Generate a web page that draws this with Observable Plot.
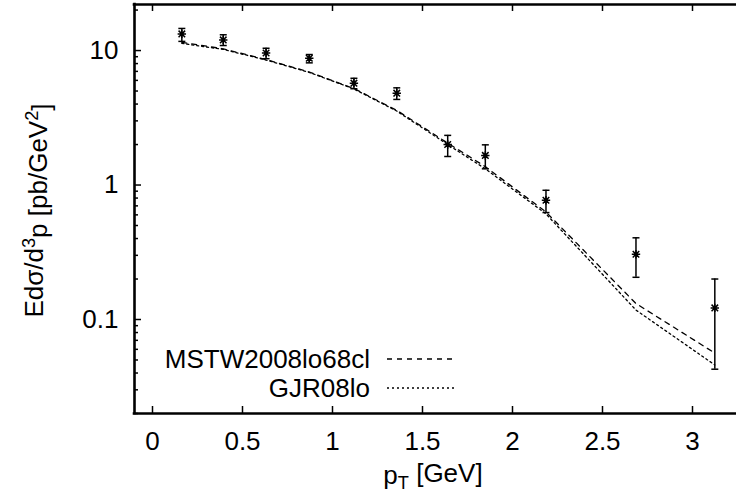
<!DOCTYPE html>
<html><head><meta charset="utf-8">
<script src="https://cdn.jsdelivr.net/npm/d3@7"></script>
<script src="https://cdn.jsdelivr.net/npm/@observablehq/plot@0.6"></script>
<style>
body{margin:0;background:#fff}
svg{font-family:"Liberation Sans",Arial,Helvetica,sans-serif}
</style>
</head><body><div id="chart"></div>
<script>
// ---- data ----
const pt     = [0.163, 0.393, 0.631, 0.871, 1.119, 1.357, 1.640, 1.849, 2.186, 2.686, 3.124];
const sigma  = [13.3, 12.0, 9.6, 8.77, 5.72, 4.82, 2.0, 1.66, 0.77, 0.306, 0.122];
const errLo  = [11.7, 10.9, 8.7, 8.1, 5.2, 4.33, 1.63, 1.32, 0.624, 0.206, 0.0427];
const errHi  = [14.6, 13.1, 10.4, 9.34, 6.22, 5.28, 2.34, 1.99, 0.914, 0.405, 0.2];
const mstw   = [11.5, 10.3, 8.57, 6.92, 5.22, 3.59, 2.05, 1.37, 0.63, 0.1315, 0.0563];
const gjr    = [11.3, 10.2, 8.50, 6.88, 5.18, 3.55, 2.00, 1.32, 0.61, 0.1175, 0.0459];
const seriesNames = ["MSTW2008lo68cl", "GJR08lo"];
const xTicks = [0, 0.5, 1, 1.5, 2, 2.5, 3];
const yTicks = [0.1, 1, 10];
const yDomain = [0.02, 22];
const yMinor = [];
for (const d of [0.01, 0.1, 1, 10]) for (let k = 2; k <= 9; k++) { const v = k * d; if (v >= yDomain[0] && v <= yDomain[1]) yMinor.push(+v.toPrecision(3)); }

const points = pt.map((x, i) => ({x, v: sigma[i], lo: errLo[i], hi: errHi[i]}));
const curves = [
  ...pt.map((x, i) => ({x, v: mstw[i], s: seriesNames[0]})),
  ...pt.map((x, i) => ({x, v: gjr[i], s: seriesNames[1]}))
];

// ---- layout ----
const W = 736, H = 500, mL = 134, mT = 4, mB = 87, mR = 0;
const pw = W - mL - mR, ph = H - mT - mB;
const pxPerUnit = 180;
const xDomain = [-0.1, -0.1 + pw / pxPerUnit];
const FS = 26;

const star = {draw(ctx) {
  const r = 4.2, d = r * 0.78;
  ctx.moveTo(-r, 0); ctx.lineTo(r, 0);
  ctx.moveTo(0, -r); ctx.lineTo(0, r);
  ctx.moveTo(-d, -d); ctx.lineTo(d, d);
  ctx.moveTo(-d, d); ctx.lineTo(d, -d);
}};
const cap = {draw(ctx) { ctx.moveTo(-3.5, 0); ctx.lineTo(3.5, 0); }};

const chart = Plot.plot({
  width: W, height: H,
  marginLeft: mL, marginTop: mT, marginBottom: mB, marginRight: mR,
  style: {fontFamily: '"Liberation Sans", Arial, sans-serif', fontSize: FS + "px", color: "black", background: "white", overflow: "visible"},
  x: {domain: xDomain},
  y: {type: "log", domain: yDomain},
  marks: [
    // inner ticks
    Plot.ruleX(xTicks, {insetTop: ph - 7, strokeWidth: 1.5}),
    Plot.ruleX(xTicks, {insetBottom: ph - 7, strokeWidth: 1.5}),
    Plot.ruleY(yTicks, {insetRight: pw - 7, strokeWidth: 1.5}),
    Plot.ruleY(yMinor, {insetRight: pw - 4, strokeWidth: 1.5}),
    Plot.axisX({ticks: xTicks, tickSize: 0, tickPadding: 18, label: null, tickFormat: d => String(d), fontSize: FS}),
    Plot.axisY({ticks: yTicks, tickSize: 0, tickPadding: 16, label: null, tickFormat: d => String(d), fontSize: FS}),
    // theory curves
    Plot.line(curves.filter(d => d.s === seriesNames[0]), {x: "x", y: "v", stroke: "black", strokeWidth: 1.3, strokeDasharray: "5,5"}),
    Plot.line(curves.filter(d => d.s === seriesNames[1]), {x: "x", y: "v", stroke: "black", strokeWidth: 1.3, strokeDasharray: "2,3"}),
    // data with error bars
    Plot.ruleX(points, {x: "x", y1: "lo", y2: "hi", stroke: "black", strokeWidth: 1.5}),
    Plot.dot(points, {x: "x", y: "lo", symbol: cap, stroke: "black", strokeWidth: 1.5, r: 4}),
    Plot.dot(points, {x: "x", y: "hi", symbol: cap, stroke: "black", strokeWidth: 1.5, r: 4}),
    Plot.dot(points, {x: "x", y: "v", symbol: star, stroke: "black", strokeWidth: 1.5, r: 4}),
    // frame (top, left, bottom)
    Plot.ruleY([yDomain[0]], {strokeWidth: 2.6, strokeLinecap: "square"}),
    Plot.ruleY([yDomain[1]], {strokeWidth: 2.6, strokeLinecap: "square"}),
    Plot.ruleX([xDomain[0]], {strokeWidth: 2.6, strokeLinecap: "square"})
  ]
});
document.getElementById("chart").appendChild(chart);

const svg = d3.select(chart);
// y label
const yl = svg.append("text")
  .attr("transform", `translate(43,${mT + ph / 2 + 2}) rotate(-90)`)
  .attr("text-anchor", "middle").attr("font-size", FS).attr("fill", "black");
yl.append("tspan").text("Edσ/d");
yl.append("tspan").attr("dy", "-0.45em").attr("font-size", "0.7em").text("3");
yl.append("tspan").attr("dy", "0.45em").text("p [pb/GeV");
yl.append("tspan").attr("dy", "-0.45em").attr("font-size", "0.7em").text("2");
yl.append("tspan").attr("dy", "0.45em").text("]");
// x label
const xl = svg.append("text")
  .attr("x", mL + pw / 2 - 2).attr("y", 484)
  .attr("text-anchor", "middle").attr("font-size", FS).attr("fill", "black");
xl.append("tspan").text("p");
xl.append("tspan").attr("dy", "0.3em").attr("font-size", "0.7em").text("T");
xl.append("tspan").attr("dy", "-0.3em").text(" [GeV]");
// legend
const legend = [{name: seriesNames[0], dash: "5,5", y: 359}, {name: seriesNames[1], dash: "2,3", y: 388}];
for (const l of legend) {
  svg.append("text").attr("x", 370).attr("y", l.y).attr("dy", "0.36em")
    .attr("text-anchor", "end").attr("font-size", FS).attr("fill", "black").text(l.name);
  svg.append("line").attr("x1", 387).attr("x2", 457).attr("y1", l.y).attr("y2", l.y)
    .attr("stroke", "black").attr("stroke-width", 1.3).attr("stroke-dasharray", l.dash);
}
</script>
</body></html>
